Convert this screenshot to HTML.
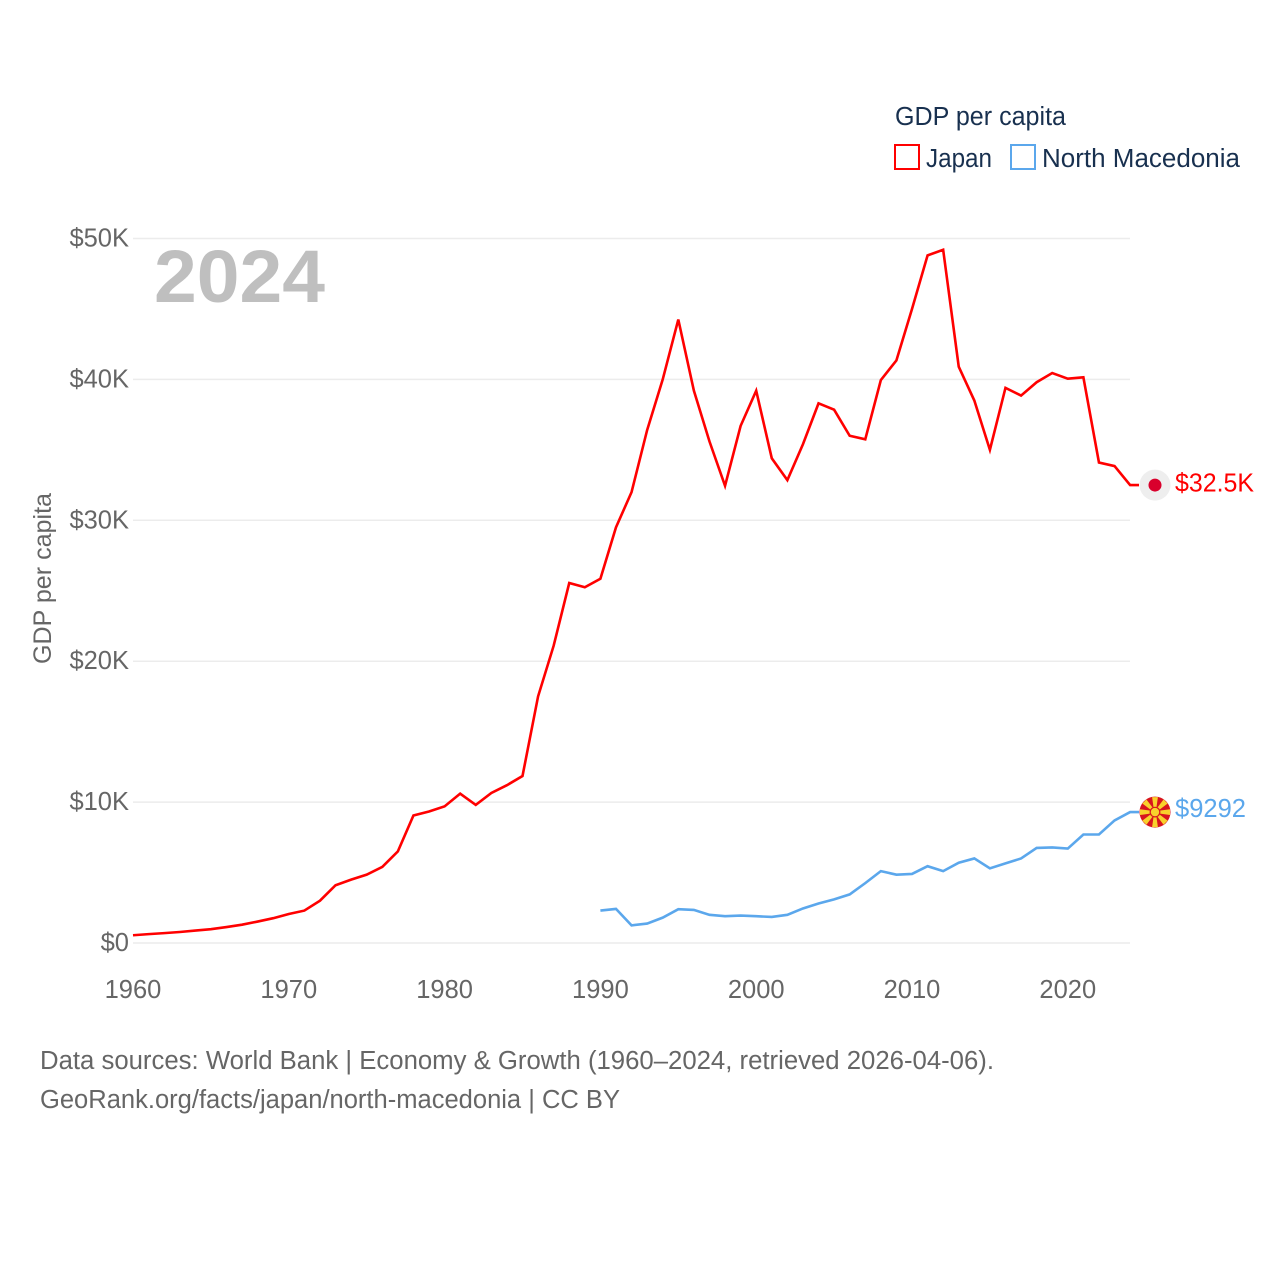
<!DOCTYPE html>
<html lang="en">
<head>
<meta charset="utf-8">
<title>GDP per capita: Japan and North Macedonia</title>
<style>
html,body{margin:0;padding:0;background:#fff;width:1280px;height:1280px;overflow:hidden}
svg{display:block}
text{font-family:"Liberation Sans",sans-serif}
</style>
</head>
<body>
<svg id="chart" width="1280" height="1280" viewBox="0 0 1280 1280" xmlns="http://www.w3.org/2000/svg">
  <rect width="1280" height="1280" fill="#fff"/>
  <g id="grid"></g>
  <g id="y-labels"></g>
  <g id="x-labels"></g>
  <text x="154" y="302" font-size="74" font-weight="700" fill="#bfbfbf" textLength="171" lengthAdjust="spacingAndGlyphs">2024</text>
  <text transform="translate(51,664) rotate(-90)" font-size="25" fill="#666" textLength="171" lengthAdjust="spacingAndGlyphs">GDP per capita</text>
  <g id="series"></g>
  <g id="end-markers"></g>
  <g>
    <text x="895" y="125" font-size="25.5" fill="#18304f" textLength="171" lengthAdjust="spacingAndGlyphs">GDP per capita</text>
    <g>
      <rect x="895" y="145" width="24" height="24" fill="none" stroke="#ff0000" stroke-width="2"/>
      <text x="926" y="167" font-size="25.5" fill="#18304f" textLength="66" lengthAdjust="spacingAndGlyphs">Japan</text>
    </g>
    <g>
      <rect x="1011" y="145" width="24" height="24" fill="none" stroke="#5ba7ec" stroke-width="2"/>
      <text x="1042" y="167" font-size="25.5" fill="#18304f" textLength="198" lengthAdjust="spacingAndGlyphs">North Macedonia</text>
    </g>
  </g>
  <text x="40" y="1069" font-size="25.5" fill="#666" textLength="954" lengthAdjust="spacingAndGlyphs">Data sources: World Bank | Economy &amp; Growth (1960–2024, retrieved 2026-04-06).</text>
  <text x="40" y="1108" font-size="25.5" fill="#666" textLength="580" lengthAdjust="spacingAndGlyphs">GeoRank.org/facts/japan/north-macedonia | CC BY</text>
</svg>
<script>
const yTicks = [0, 10, 20, 30, 40, 50];
const yTickLabels = ["$0", "$10K", "$20K", "$30K", "$40K", "$50K"];
const xTicks = [1960, 1970, 1980, 1990, 2000, 2010, 2020];
const japanStartYear = 1960;
const japanValues = [0.55,0.63,0.7,0.78,0.88,0.98,1.13,1.3,1.52,1.76,2.06,2.3,3.0,4.1,4.5,4.85,5.4,6.5,9.05,9.33,9.7,10.6,9.8,10.65,11.2,11.85,17.5,21.1,25.55,25.25,25.85,29.5,32.0,36.4,40.0,44.25,39.2,35.6,32.45,36.7,39.2,34.4,32.85,35.4,38.3,37.85,36.0,35.75,39.95,41.35,45.0,48.8,49.2,40.9,38.5,35.0,39.4,38.85,39.8,40.45,40.05,40.15,34.1,33.85,32.5];
const macedoniaStartYear = 1990;
const macedoniaValues = [2.3,2.42,1.25,1.38,1.8,2.4,2.35,2.0,1.9,1.95,1.9,1.85,2.0,2.45,2.8,3.1,3.45,4.25,5.1,4.85,4.9,5.45,5.1,5.7,6.0,5.3,5.65,6.0,6.75,6.78,6.7,7.7,7.7,8.7,9.29];
const japanEndLabel = "$32.5K";
const macedoniaEndLabel = "$9292";

const NS = "http://www.w3.org/2000/svg";
const xScale = year => 133 + (year - 1960) * 15.58;
const yScale = value => 943 - value * 14.09;

function make(tag, attrs, parent) {
  const el = document.createElementNS(NS, tag);
  for (const k in attrs) el.setAttribute(k, attrs[k]);
  parent.appendChild(el);
  return el;
}

const grid = document.getElementById("grid");
const yLabels = document.getElementById("y-labels");
yTicks.forEach((tick, i) => {
  const line = make("line", {x1: 133, x2: 1130, y1: yScale(tick), y2: yScale(tick), stroke: "#ececec", "stroke-width": 1.5}, grid);
  
  
  const label = make("text", {x: 129, y: yScale(tick) + 8, "text-anchor": "end", "font-size": 25.5, fill: "#666"}, yLabels);
  
  
  label.textContent = yTickLabels[i];
});

const xLabels = document.getElementById("x-labels");
xTicks.forEach(year => {
  const label = make("text", {x: xScale(year), y: 998, "text-anchor": "middle", "font-size": 25.5, fill: "#666"}, xLabels);
  
  
  label.textContent = year;
});

const series = document.getElementById("series");
function drawSeries(values, startYear, color) {
  const pts = values.map((v, i) => xScale(startYear + i).toFixed(2) + "," + yScale(v).toFixed(2));
  const lastY = yScale(values[values.length - 1]).toFixed(2);
  pts.push("1139," + lastY);
  return make("polyline", {points: pts.join(" "), fill: "none", stroke: color, "stroke-width": 2.6, "stroke-linejoin": "miter"}, series);
}
const macedoniaLine = drawSeries(macedoniaValues, macedoniaStartYear, "#5ba7ec");


const japanLine = drawSeries(japanValues, japanStartYear, "#ff0000");



const markers = document.getElementById("end-markers");
const jy = yScale(japanValues[japanValues.length - 1]);
const my = yScale(macedoniaValues[macedoniaValues.length - 1]);

const jFlag = make("g", {transform: "translate(1155," + jy + ")"}, markers);


make("circle", {r: 15.5, fill: "#eeeeee"}, jFlag);
make("circle", {r: 6.5, fill: "#d9002c"}, jFlag);
const jLabel = make("text", {x: 1175, y: jy + 6.5, "font-size": 25.5, fill: "#ff0000", textLength: 79, lengthAdjust: "spacingAndGlyphs"}, markers);


jLabel.textContent = japanEndLabel;

const mFlag = make("g", {transform: "translate(1155," + my + ")"}, markers);


make("circle", {r: 15.5, fill: "#d8141e"}, mFlag);
for (let a = 0; a < 360; a += 45) {
  make("polygon", {points: "-0.8,0 0.8,0 2.9,-15 -2.9,-15", fill: "#f8d12c", transform: "rotate(" + a + ")"}, mFlag);
}
make("circle", {r: 5.4, fill: "#d8141e"}, mFlag);
make("circle", {r: 4.2, fill: "#f8d12c"}, mFlag);
const mLabel = make("text", {x: 1175, y: my + 5, "font-size": 25.5, fill: "#5ba7ec", textLength: 71, lengthAdjust: "spacingAndGlyphs"}, markers);


mLabel.textContent = macedoniaEndLabel;
</script>
</body>
</html>
